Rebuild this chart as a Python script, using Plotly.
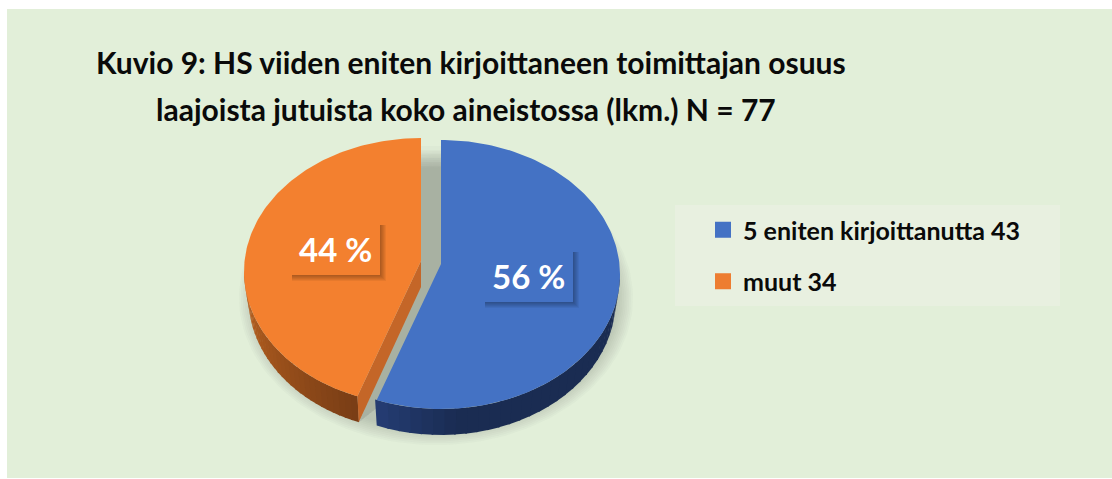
import numpy as np
import plotly.graph_objects as go

# ---- data ----
CATEGORIES = ["5 eniten kirjoittanutta", "muut"]
VALUES = [43, 34]
TITLE_LINES = [
    "Kuvio 9: HS viiden eniten kirjoittaneen toimittajan osuus",
    "laajoista jutuista koko aineistossa (lkm.) N = 77",
]

# ---- style ----
W, H = 1112, 479
FONT = "Lato"
TOP = ["#4472C4", "#F3802F"]
CUT = ["#1A2C52", "#C46628"]
SIDE_A = [(38, 62, 118), (190, 101, 34)]
SIDE_B = [(26, 44, 82), (122, 62, 22)]
# ellipse geometry of each exploded slice, in axis units (pixels):
# cx, cy, rx, ry, apex x, apex y
GEOM = [(441, 274.5, 179, 134.5, 441, 264), (421, 271.6, 177, 133.6, 421, 261)]
DEPTH = 26
LABEL_CENTRE = [(528, 276), (335, 249)]

total = sum(VALUES)
edges = np.cumsum([0] + VALUES) / total * 2 * np.pi


def rim(g, t, dy=0.0, k=1.0):
    return g[0] + k * g[2] * np.sin(t), g[1] - g[3] * np.cos(t) + dy


def poly(x, y, color):
    return go.Scatter(x=list(x), y=list(y), mode="lines", fill="toself", fillcolor=color,
                      line=dict(width=0), hoverinfo="skip", showlegend=False)


fig = go.Figure()

# soft drop shadow under the pie
t_all = np.linspace(0, 2 * np.pi, 180)
for i in range(10):
    grow = 13 - i * 1.8
    x = 436 + (184 + grow) * np.sin(t_all)
    y = 298 - (134 + grow) * np.cos(t_all)
    fig.add_trace(poly(x, y, "rgba(90,110,85,0.03)"))

# shadow in the gap between the slices, fading upward
ax0, ay0 = GEOM[1][4], GEOM[1][5]
ax1, ay1 = GEOM[0][4], GEOM[0][5]
rx0, ry0 = rim(GEOM[1], edges[1], DEPTH, 0.98)
rx1, ry1 = rim(GEOM[0], edges[1], 0, 1)
for k in range(6):
    top_y = 146 + k * 4
    fig.add_trace(poly([ax0, ax0, rx0, rx1, ax1 + 2, ax1 + 2, ax0],
                       [top_y, ay0 + 20, ry0, ry1 + 8, ay1, top_y, top_y],
                       "rgba(90,100,90,0.03)"))

for i in range(len(VALUES)):
    g = GEOM[i]
    t0, t1 = edges[i], edges[i + 1]
    # curved outer wall (only the front half of the ellipse shows)
    lo, hi = max(t0, np.pi / 2), min(t1, 3 * np.pi / 2)
    steps = np.linspace(lo, hi, 31)
    n = len(steps) - 1
    for s in range(n):
        if i == 0:
            # light only close to the cut edge
            u = min(1, (steps[-1] - steps[s]) / 0.5)
        else:
            # darkens toward the cut edge
            u = 1 - s / (n - 1)
        c = [int(SIDE_A[i][j] + (SIDE_B[i][j] - SIDE_A[i][j]) * u) for j in range(3)]
        ts = np.linspace(steps[s], steps[s + 1] + 0.01, 4)
        xa, ya = rim(g, ts)
        xb, yb = rim(g, ts[::-1], DEPTH, 0.975)
        fig.add_trace(poly(np.r_[xa, xb, xa[0]], np.r_[ya, yb, ya[0]], f"rgb({c[0]},{c[1]},{c[2]})"))

    # flat cut face of the orange slice
    if i == 1:
        ex, ey = rim(g, t0)
        bx, by = rim(g, t0, DEPTH, 0.98)
        fig.add_trace(poly([g[4], ex, bx, g[4], g[4]], [g[5], ey, by, g[5] + DEPTH, g[5]], CUT[i]))

    # top face
    ts = np.linspace(t0, t1, 160)
    xt, yt = rim(g, ts)
    fig.add_trace(poly(np.r_[g[4], xt, g[4]], np.r_[g[5], yt, g[5]], TOP[i]))

# legend entries
for i, cat in enumerate(CATEGORIES):
    fig.add_trace(go.Scatter(x=[None], y=[None], mode="markers", name=f"{cat} {VALUES[i]}",
                             legendgroup=cat,
                             marker=dict(symbol="square", size=16, color=TOP[i] if i == 0 else "#ED7D31")))

shapes = [dict(type="rect", xref="x", yref="y", x0=7, x1=W, y0=9, y1=478,
               fillcolor="#E2EFD9", line_width=0, layer="below"),
          dict(type="rect", xref="x", yref="y", x0=675, x1=1060, y0=205, y1=306,
               fillcolor="#E8F0E0", line_width=0, layer="below")]
annotations = []

# percentage labels with their little boxes and soft shadows
for i, v in enumerate(VALUES):
    cx, cy = LABEL_CENTRE[i]
    for k in range(6, 0, -1):
        shapes.append(dict(type="rect", xref="x", yref="y", x0=cx - 45 + 2, x1=cx + 45 + k,
                           y0=cy - 26 + 2, y1=cy + 26 + k, fillcolor="rgba(0,0,0,0.05)",
                           line_width=0, layer="above"))
    shapes.append(dict(type="rect", xref="x", yref="y", x0=cx - 45, x1=cx + 45, y0=cy - 26, y1=cy + 26,
                       fillcolor=TOP[i], line_width=0, layer="above"))
    annotations.append(dict(x=cx, y=cy, xref="x", yref="y", showarrow=False,
                            text=f"{round(100 * v / total)} %",
                            font=dict(family=FONT, size=33, color="white", weight=700)))

for line, cx, cy in zip(TITLE_LINES, [471, 466], [62, 109]):
    annotations.append(dict(x=cx, y=cy, xref="x", yref="y", showarrow=False, text=line,
                            font=dict(family=FONT, size=30, color="#0A0A0A", weight=700)))

fig.update_layout(
    width=W, height=H, autosize=False,
    margin=dict(l=0, r=0, t=0, b=0),
    paper_bgcolor="white",
    plot_bgcolor="white",
    xaxis=dict(range=[0, W], visible=False, fixedrange=True),
    yaxis=dict(range=[H, 0], visible=False, fixedrange=True),
    shapes=shapes,
    annotations=annotations,
    legend=dict(x=703 / W, y=1 - 207 / H, xanchor="left", yanchor="top",
                bgcolor="rgba(0,0,0,0)", tracegroupgap=16, traceorder="grouped",
                font=dict(family=FONT, size=25, color="#0A0A0A", weight=700)),
)
fig.write_html("out.html", config=dict(displayModeBar=False),
               post_script="document.body.style.margin='0';document.body.style.overflow='hidden';")
